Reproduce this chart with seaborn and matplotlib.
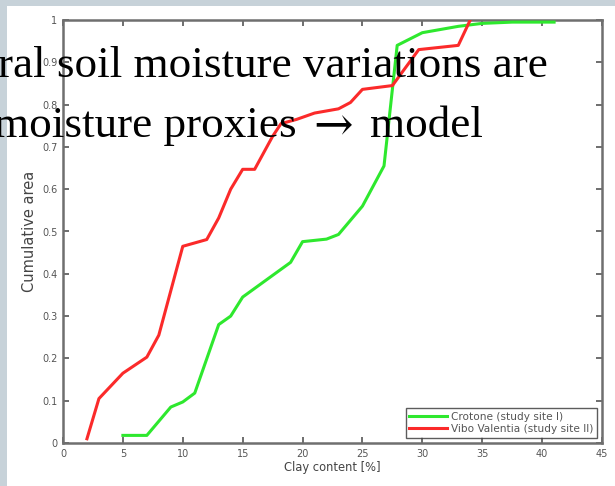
import numpy as np
import pandas as pd
import matplotlib
matplotlib.use("Agg")
import matplotlib.pyplot as plt
import seaborn as sns
from matplotlib.patches import Rectangle

# ---- data ----
crotone_x = [5, 7, 9, 10, 11, 13, 14, 15, 19, 20, 22, 23, 25, 26.8, 27.9, 30, 33, 35, 37.5, 41]
crotone_y = [0.018, 0.018, 0.085, 0.097, 0.118, 0.28, 0.30, 0.345, 0.427, 0.476, 0.482, 0.493,
             0.56, 0.655, 0.94, 0.97, 0.985, 0.992, 0.995, 0.995]
vibo_x = [2, 3, 4, 5, 7, 8, 10, 12, 13, 14, 15, 16, 17.5, 18.2, 19.5, 21, 23, 24, 25, 27.5,
          29.7, 33, 34]
vibo_y = [0.01, 0.105, 0.135, 0.165, 0.203, 0.255, 0.465, 0.481, 0.532, 0.6, 0.647, 0.647,
          0.725, 0.755, 0.765, 0.78, 0.79, 0.805, 0.836, 0.845, 0.93, 0.94, 1.0]
series_names = ["Crotone (study site I)", "Vibo Valentia (study site II)"]
x_ticks = [0, 5, 10, 15, 20, 25, 30, 35, 40, 45]
y_ticks = [0, 0.1, 0.2, 0.3, 0.4, 0.5, 0.6, 0.7, 0.8, 0.9, 1]
y_tick_labels = ["0", "0.1", "0.2", "0.3", "0.4", "0.5", "0.6", "0.7", "0.8", "0.9", "1"]
overlay_line1 = "ral soil moisture variations are"
overlay_line2 = ["moisture proxies", "\u2192", "model"]

df = pd.concat([
    pd.DataFrame({"clay": crotone_x, "area": crotone_y, "site": series_names[0]}),
    pd.DataFrame({"clay": vibo_x, "area": vibo_y, "site": series_names[1]}),
])

W, H = 615, 486
fig = plt.figure(figsize=(W / 100, H / 100), dpi=100)
fig.patch.set_facecolor("#c7d2d9")
# white slide panel
fig.patches.append(Rectangle((7 / W, 0), 1 - 7 / W, 1 - 6 / H, transform=fig.transFigure,
                             facecolor="white", edgecolor="none", zorder=-5))

ax = fig.add_axes([63 / W, 1 - 443 / H, (602 - 63) / W, (443 - 20) / H], zorder=2)
ax.set_facecolor("white")
sns.lineplot(data=df, x="clay", y="area", hue="site", sort=False, estimator=None,
             palette={series_names[0]: "#2ee82e", series_names[1]: "#fb2a2a"},
             linewidth=2.2, ax=ax, legend=True, zorder=3)

ax.set_xlim(0, 45)
ax.set_ylim(0, 1)
ax.set_xticks(x_ticks)
ax.set_xticklabels([str(t) for t in x_ticks])
ax.set_yticks(y_ticks)
ax.set_yticklabels(y_tick_labels)
ax.tick_params(direction="in", length=4, width=1.2, color="#555555", labelsize=7,
               labelcolor="#555555", top=True, right=True, pad=4)
for s in ax.spines.values():
    s.set_color("#6f6f6f")
    s.set_linewidth(1.8)
ax.set_xlabel("Clay content [%]", fontsize=8.3, color="#444444", labelpad=2)
ax.set_ylabel("Cumulative area", fontsize=10.5, color="#444444", labelpad=4)

leg = ax.legend(loc="lower right", fontsize=7.6, frameon=True, fancybox=False,
                borderpad=0.35, handlelength=3.6, handletextpad=0.3, labelspacing=0.2,
                borderaxespad=0.5)
leg.get_frame().set_edgecolor("#333333")
leg.get_frame().set_linewidth(1.0)
leg.set_zorder(5)
for t in leg.get_texts():
    t.set_color("#555555")

# overlaid slide text
fam = ["Liberation Serif", "DejaVu Serif"]
fs = 32.5
fig.text(548 / W, 1 - 77 / H, overlay_line1, ha="right", va="baseline", fontsize=fs,
         family=fam, color="black", zorder=10)
fig.text(297 / W, 1 - 137 / H, overlay_line2[0], ha="right", va="baseline", fontsize=fs,
         family=fam, color="black", zorder=10)
fig.text(333 / W, 1 - 141 / H, overlay_line2[1], ha="center", va="baseline", fontsize=34,
         family=["DejaVu Serif"], color="black", zorder=10)
fig.text(370 / W, 1 - 137 / H, overlay_line2[2], ha="left", va="baseline", fontsize=fs,
         family=fam, color="black", zorder=10)

fig.savefig("out.png", dpi=100, facecolor=fig.get_facecolor())
